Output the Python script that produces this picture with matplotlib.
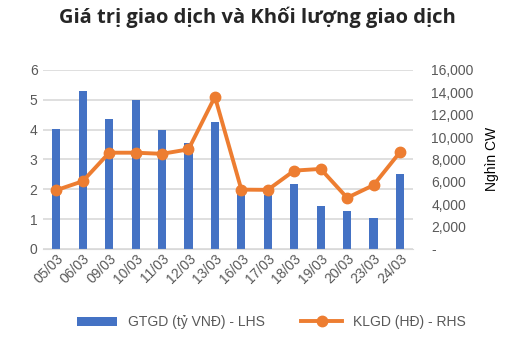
import numpy as np
import matplotlib.pyplot as plt
from matplotlib.ticker import FuncFormatter

dates = ["05/03", "06/03", "09/03", "10/03", "11/03", "12/03", "13/03",
         "16/03", "17/03", "18/03", "19/03", "20/03", "23/03", "24/03"]
gtgd = [4.02, 5.30, 4.35, 5.00, 3.98, 3.55, 4.27, 1.98, 1.81, 2.18, 1.44, 1.28, 1.02, 2.52]
klgd = [5250, 6050, 8600, 8600, 8500, 8900, 13600, 5300, 5280, 7000, 7150, 4570, 5700, 8650]

blue = "#4472C4"
orange = "#ED7D31"
grey = "#595959"

plt.rcParams["font.family"] = ["Liberation Sans", "DejaVu Sans"]

fig = plt.figure(figsize=(5.07, 3.41), dpi=100)
ax = fig.add_axes([0.085, 0.27, 0.73, 0.525])
ax2 = ax.twinx()

x = np.arange(len(dates))
ax.bar(x, gtgd, width=0.31, color=blue, zorder=2, label="GTGD (tỷ VNĐ) - LHS")
ax2.plot(x, klgd, color=orange, lw=2.8, marker="o", ms=7.5, zorder=3,
         label="KLGD (HĐ) - RHS")

ax.set_xlim(-0.5, len(dates) - 0.5)
ax.set_ylim(0, 6)
ax.set_yticks(range(7))
ax2.set_ylim(0, 16000)
ax2.set_yticks(range(0, 16001, 2000))
ax2.yaxis.set_major_formatter(FuncFormatter(lambda v, p: "-" if v == 0 else f"{int(v):,}"))

ax.grid(axis="y", color="#d9d9d9", lw=1.2, zorder=0)
ax.set_axisbelow(True)
for a in (ax, ax2):
    for s in a.spines.values():
        s.set_visible(False)
    a.tick_params(length=0, labelsize=10, colors=grey, pad=4)
ax.spines["bottom"].set_visible(True)
ax.spines["bottom"].set_color("#d9d9d9")
ax2.tick_params(axis="y", pad=13)

ax.set_xticks(x)
ax.set_xticklabels(dates, rotation=45, ha="right", rotation_mode="anchor")
ax.tick_params(axis="x", pad=2)

ax2.set_ylabel("Nghìn CW", fontsize=10, color="black", labelpad=8)

fig.suptitle("Giá trị giao dịch và Khối lượng giao dịch", x=0.508, y=0.98,
             fontsize=14.5, fontweight="bold", family="Open Sans", color="#262626")

h1, l1 = ax.get_legend_handles_labels()
h2, l2 = ax2.get_legend_handles_labels()
fig.legend(h1 + h2, l1 + l2, loc="center", bbox_to_anchor=(0.535, 0.055), ncol=2,
           frameon=False, fontsize=10, labelcolor=grey, handlelength=2.9,
           handletextpad=0.8, columnspacing=2.6)

fig.savefig("out.png", dpi=100)
